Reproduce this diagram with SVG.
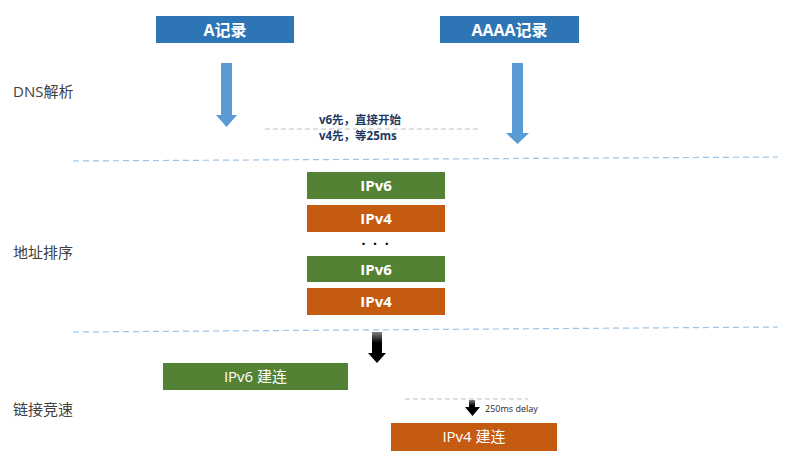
<svg xmlns="http://www.w3.org/2000/svg" width="800" height="472" viewBox="0 0 800 472">
<defs>
<style>
text{font-family:"Open Sans","Noto Sans CJK SC",sans-serif}
.hdr{fill:#2e75b6}
.g{fill:#548235}
.o{fill:#c55a11}
.bt{fill:#fff;font-size:15px;font-weight:bold;text-anchor:middle}
.ht{fill:#fff;font-size:16px;font-weight:bold;text-anchor:middle}
.rt{fill:#fff;font-size:15px;text-anchor:middle}
.lab{fill:#404040;font-size:15px}
.note{fill:#1f3864;font-size:11.5px;font-weight:bold}
.dash{stroke:#9dc3e6;stroke-width:1.2;stroke-dasharray:6 4;fill:none}
.dash2{stroke:#bfbfbf;stroke-width:1;stroke-dasharray:5 3;fill:none}
.barrow{fill:#5b9bd5}
</style>
<linearGradient id="blk" x1="0" y1="0" x2="0" y2="1">
<stop offset="0" stop-color="#7f7f7f"/>
<stop offset="0.35" stop-color="#000"/>
<stop offset="1" stop-color="#000"/>
</linearGradient>
</defs>
<rect width="800" height="472" fill="#fff"/>

<g id="labels">
<text class="lab" x="13" y="97">DNS解析</text>
<text class="lab" x="13" y="258">地址排序</text>
<text class="lab" x="13" y="415">链接竞速</text>
</g>

<g id="node-a">
<rect class="hdr" x="156" y="16" width="138" height="27"/>
<text class="ht" x="225" y="35.5">A记录</text>
</g>
<g id="node-aaaa">
<rect class="hdr" x="440" y="16" width="139" height="27"/>
<text class="ht" x="509.5" y="35.5">AAAA记录</text>
</g>

<g id="node-ipv6-1">
<rect class="g" x="307" y="172" width="138" height="27"/>
<text class="bt" x="376" y="191">IPv6</text>
</g>
<g id="node-ipv4-1">
<rect class="o" x="307" y="205" width="138" height="27"/>
<text class="bt" x="376" y="224">IPv4</text>
</g>
<g id="node-dots">
<text x="376" y="249" font-size="14" font-weight="bold" fill="#000" text-anchor="middle" letter-spacing="2">· · ·</text>
</g>
<g id="node-ipv6-2">
<rect class="g" x="307" y="256" width="138" height="26"/>
<text class="bt" x="376" y="275">IPv6</text>
</g>
<g id="node-ipv4-2">
<rect class="o" x="307" y="288" width="138" height="27"/>
<text class="bt" x="376" y="307">IPv4</text>
</g>

<g id="node-ipv6-conn">
<rect class="g" x="163" y="363" width="185" height="27"/>
<text class="rt" x="255.5" y="382">IPv6 建连</text>
</g>
<g id="node-ipv4-conn">
<rect class="o" x="391" y="423" width="166" height="28"/>
<text class="rt" x="474" y="442">IPv4 建连</text>
</g>

<g id="connectors">
<polygon class="barrow" points="221,63 232,63 232,115 237,115 226.5,127 216,115 221,115"/>
<polygon class="barrow" points="512,63 523,63 523,133 529,133 517.5,144 506,133 512,133"/>
<line class="dash2" x1="265" y1="129" x2="478" y2="129"/>
<line class="dash" x1="73" y1="161" x2="778" y2="157"/>
<line class="dash" x1="73" y1="332" x2="778" y2="327"/>
<polygon fill="url(#blk)" points="372,332 382,332 382,353 386,353 377,363 368,353 372,353"/>
<line class="dash2" x1="405" y1="399" x2="528" y2="399"/>
<polygon fill="url(#blk)" points="469,400 475,400 475,407 480,407 472.5,416 465,407 469,407"/>
</g>

<g id="notes">
<text class="note" x="319" y="124">v6先，直接开始</text>
<text class="note" x="319" y="140">v4先，等25ms</text>
<text x="485" y="412" font-size="9" fill="#262626">250ms delay</text>
</g>
</svg>
